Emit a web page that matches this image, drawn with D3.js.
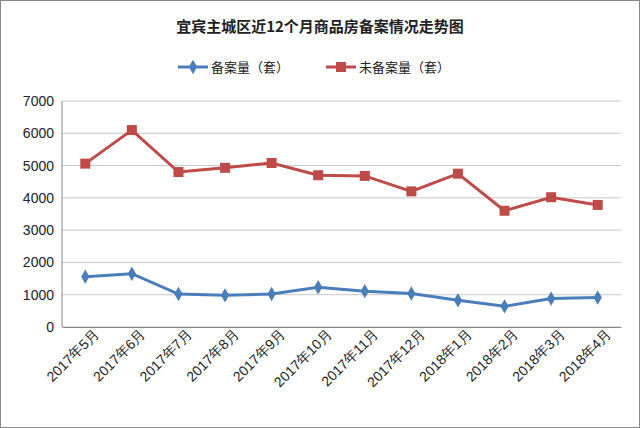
<!DOCTYPE html>
<html><head><meta charset="utf-8">
<script src="https://cdn.jsdelivr.net/npm/d3@7"></script>
<style>body{margin:0;background:#fff}svg{font-family:"Noto Sans CJK SC",sans-serif}</style>
</head><body><div id="chart"></div>
<script>
const months = ["2017年5月","2017年6月","2017年7月","2017年8月","2017年9月","2017年10月","2017年11月","2017年12月","2018年1月","2018年2月","2018年3月","2018年4月"];
const filed = [1560,1650,1020,980,1020,1230,1110,1040,830,640,880,910];
const unfiled = [5060,6100,4800,4930,5080,4700,4680,4200,4750,3600,4020,3780];
const yTicks = [0,1000,2000,3000,4000,5000,6000,7000];

const w = 640, h = 428;
const m = {left: 62, right: 19, top: 101, bottom: 101};
const svg = d3.select("#chart").append("svg").attr("width", w).attr("height", h);
svg.append("rect").attr("x",0.5).attr("y",0.5).attr("width",w-1).attr("height",h-1).attr("fill","#fff").attr("stroke","#888");

const x = d3.scalePoint().domain(months).range([m.left, w-m.right]).padding(0.5);
const y = d3.scaleLinear().domain([0,7000]).range([h-m.bottom, m.top]);

// grid
svg.selectAll(".grid").data(yTicks).enter().append("line")
  .attr("x1", m.left).attr("x2", w-m.right)
  .attr("y1", d => y(d)).attr("y2", d => y(d))
  .attr("stroke", "#c8c8c8");
svg.append("line").attr("x1",m.left).attr("x2",m.left).attr("y1",m.top).attr("y2",h-m.bottom).attr("stroke","#888");

const yAxis = svg.append("g").attr("transform", `translate(${m.left},0)`)
  .call(d3.axisLeft(y).tickValues(yTicks).tickFormat(d3.format("d")).tickSize(0).tickPadding(8));
yAxis.select(".domain").remove();
yAxis.selectAll("text").attr("font-size", 14).attr("fill", "#222");

const xAxis = svg.append("g").attr("transform", `translate(0,${h-m.bottom})`)
  .call(d3.axisBottom(x).tickSize(0));
xAxis.select(".domain").attr("stroke","#888");
xAxis.selectAll("text").attr("font-size", 14).attr("fill", "#222")
  .attr("text-anchor","end").attr("dx","0.3em").attr("dy","0.9em")
  .attr("transform","rotate(-45)");

const line = d3.line().x((d,i) => x(months[i])).y(d => y(d));

// unfiled (red squares)
svg.append("path").datum(unfiled).attr("d", line).attr("fill","none").attr("stroke","#be4b48").attr("stroke-width",3);
svg.selectAll(".sq").data(unfiled).enter().append("rect")
  .attr("x",(d,i)=>x(months[i])-5).attr("y",d=>y(d)-5).attr("width",10).attr("height",10).attr("fill","#be4b48");

// filed (blue diamonds)
svg.append("path").datum(filed).attr("d", line).attr("fill","none").attr("stroke","#4a7ebb").attr("stroke-width",3);
svg.selectAll(".dm").data(filed).enter().append("path")
  .attr("d", d3.symbol().type(d3.symbolDiamond).size(60))
  .attr("transform",(d,i)=>`translate(${x(months[i])},${y(d)})`).attr("fill","#4a7ebb");

// title
svg.append("text").attr("x", w/2).attr("y", 32).attr("text-anchor","middle")
  .attr("font-size", 15).attr("font-weight","bold").attr("fill","#222").text("宜宾主城区近12个月商品房备案情况走势图");

// legend
const lg = svg.append("g").attr("transform","translate(178,67)");
lg.append("line").attr("x1",0).attr("x2",30).attr("stroke","#4a7ebb").attr("stroke-width",3);
lg.append("path").attr("d", d3.symbol().type(d3.symbolDiamond).size(60)).attr("transform","translate(15,0)").attr("fill","#4a7ebb");
lg.append("text").attr("x",33).attr("y",5).attr("font-size",13).attr("fill","#222").text("备案量（套）");
lg.append("line").attr("x1",148).attr("x2",178).attr("stroke","#be4b48").attr("stroke-width",3);
lg.append("rect").attr("x",158).attr("y",-5).attr("width",10).attr("height",10).attr("fill","#be4b48");
lg.append("text").attr("x",181).attr("y",5).attr("font-size",13).attr("fill","#222").text("未备案量（套）");
</script></body></html>
